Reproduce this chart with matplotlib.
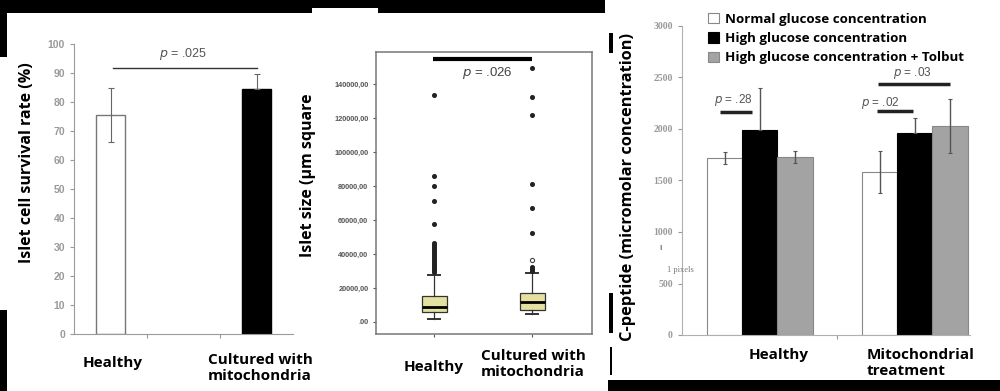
import matplotlib.pyplot as plt
from matplotlib.patches import Rectangle
import numpy as np

W, H = 1000, 391

# ---- panel 1: islet cell survival ----
surv_vals = [75.5, 84.5]
surv_err_lo = [9.2, 0]
surv_err_hi = [9.2, 5.0]
surv_colors = ["white", "black"]
surv_p = "= .025"

# ---- panel 2: islet size box plots ----
size_ticks = [0, 20000, 40000, 60000, 80000, 100000, 120000, 140000]
size_ticklabels = [".00", "20000,00", "40000,00", "60000,00", "80000,00",
                   "100000,00", "120000,00", "140000,00"]
healthy_box = dict(q1=5900, med=9000, q3=15300, whislo=1760, whishi=27600)
healthy_out = [133500, 85900, 80200, 71200, 57600, 46300, 45200, 44000, 42800,
               41500, 40300, 39200, 38100, 37000, 36000, 35000, 34000, 33000,
               32000, 31000, 30000, 29400]
mito_box = dict(q1=7060, med=11800, q3=17000, whislo=4700, whishi=28800)
mito_out = [149400, 132400, 121800, 81200, 67000, 52400, 32400, 31200, 30200]
mito_open = [36500]
size_p = "= .026"

# ---- panel 3: C-peptide ----
cpep_groups = ["Healthy", "Mitochondrial\ntreatment"]
cpep_labels = ["Normal glucose concentration", "High glucose concentration",
               "High glucose concentration + Tolbut"]
cpep_normal = [1718, 1583]
cpep_high = [1990, 1960]
cpep_tolb = [1728, 2030]
err_normal = [55, 200]
err_high = [410, 150]
err_tolb = [55, 265]
cpep_colors = ["white", "black", "#a3a3a3"]


def fx(x):
    return x / W


def fy(y):
    return 1 - y / H


def axes_px(fig, x0, y0, x1, y1):
    return fig.add_axes([fx(x0), fy(y1), (x1 - x0) / W, (y1 - y0) / H])


def black(fig, x0, y0, x1, y1):
    fig.add_artist(Rectangle((fx(x0), fy(y1)), (x1 - x0) / W, (y1 - y0) / H,
                             transform=fig.transFigure, color="black", lw=0))


LAB = dict(family="Open Sans", weight="bold", color="black")
TICK = dict(family="Liberation Sans", weight="bold", color="#444444")
GRAY = "#9a9a9a"

fig = plt.figure(figsize=(10, 3.91), dpi=100)
fig.patch.set_facecolor("white")

# ================= panel 1 =================
ax1 = axes_px(fig, 74, 44, 293, 334)
ax1.bar([0, 2], surv_vals, width=0.4, color=surv_colors,
        edgecolor=["#777777", "black"], linewidth=1)
ax1.errorbar([0, 2], surv_vals, yerr=[surv_err_lo, surv_err_hi], fmt="none",
             ecolor="#666666", elinewidth=0.8, capsize=2, capthick=0.8)
ax1.set_xlim(-0.5, 2.5)
ax1.set_ylim(0, 100)
ax1.set_yticks(range(0, 101, 10))
ax1.set_yticklabels([str(v) for v in range(0, 101, 10)], fontsize=7.5, **TICK)
ax1.set_xticks([0.5, 1.5])
ax1.set_xticklabels([])
for s in ["top", "right"]:
    ax1.spines[s].set_visible(False)
for s in ["left", "bottom"]:
    ax1.spines[s].set_color(GRAY)
ax1.tick_params(colors=GRAY, length=3, width=0.8)
ax1.plot([0.03, 2.0], [91.7, 91.7], color="#333333", lw=1)
ax1.text(0.99, 96.5, "$\\it{p}$ " + surv_p, ha="center", va="center",
         fontsize=9, color="#555555", family="Liberation Sans")

fig.text(fx(113), fy(363), "Healthy", ha="center", va="center", fontsize=11, **LAB)
fig.text(fx(260), fy(368), "Cultured with\nmitochondria", ha="center", va="center",
         fontsize=11, linespacing=1.15, **LAB)
fig.text(fx(27), fy(163), "Islet cell survival rate (%)", rotation=90,
         ha="center", va="center", fontsize=11.5, **LAB)

# ================= panel 2 =================
ax2 = axes_px(fig, 376, 52, 592, 334)
stats = [dict(healthy_box, fliers=healthy_out), dict(mito_box, fliers=mito_out)]
ax2.bxp(stats, positions=[1, 2], widths=0.255, patch_artist=True,
        boxprops=dict(facecolor="#e4e0a2", edgecolor="#333333", lw=0.9),
        medianprops=dict(color="black", lw=2),
        whiskerprops=dict(color="#333333", lw=0.9),
        capprops=dict(color="#333333", lw=1.4), capwidths=0.12,
        flierprops=dict(marker="o", markersize=2.6, markerfacecolor="#222222",
                        markeredgecolor="#222222"))
ax2.plot([2] * len(mito_open), mito_open, "o", ms=3, mfc="none", mec="#444444", mew=0.8)
ax2.set_xlim(0.408, 2.612)
ax2.set_ylim(-7060, 158800)
ax2.set_yticks(size_ticks)
ax2.set_yticklabels(size_ticklabels, fontsize=5.3, **TICK)
ax2.set_xticks([1, 2])
ax2.set_xticklabels([])
for s in ax2.spines.values():
    s.set_color("#777777")
    s.set_linewidth(1.1)
ax2.tick_params(colors="#555555", length=2, width=0.8)
ax2.plot([0.99, 2.0], [154700, 154700], color="black", lw=3, solid_capstyle="butt")
ax2.text(1.54, 146500, "$\\it{p}$ " + size_p, ha="center", va="center",
         fontsize=9.5, color="#444444", family="Liberation Sans")

fig.text(fx(434), fy(367), "Healthy", ha="center", va="center", fontsize=11, **LAB)
fig.text(fx(533), fy(364), "Cultured with\nmitochondria", ha="center", va="center",
         fontsize=11, linespacing=1.15, **LAB)
fig.text(fx(308), fy(175), "Islet size (µm square", rotation=90,
         ha="center", va="center", fontsize=11.5, **LAB)

# ================= panel 3 =================
ax3 = axes_px(fig, 682, 26, 970, 335)
x = np.arange(len(cpep_groups))
bw = 0.226
series = [(cpep_normal, err_normal), (cpep_high, err_high), (cpep_tolb, err_tolb)]
handles = []
for i, (vals, errs) in enumerate(series):
    pos = x + (i - 1) * bw
    b = ax3.bar(pos, vals, width=bw, color=cpep_colors[i],
                edgecolor="#888888" if i != 1 else "black", linewidth=0.8,
                label=cpep_labels[i])
    lo = [0] * len(errs) if i == 1 else errs
    ax3.errorbar(pos, vals, yerr=[lo, errs], fmt="none", ecolor="#555555",
                 elinewidth=1, capsize=1.5, capthick=0.8)
    handles.append(b)
ax3.set_xlim(-0.503, 1.355)
ax3.set_ylim(0, 3000)
ax3.set_yticks(range(0, 3001, 500))
ax3.set_yticklabels([str(v) for v in range(0, 3001, 500)], fontsize=7,
                    family="Liberation Serif", weight="bold", color="#444444")
ax3.set_xticks([0.497])
ax3.set_xticklabels([])
for s in ["top", "right"]:
    ax3.spines[s].set_visible(False)
for s in ["left", "bottom"]:
    ax3.spines[s].set_color("#b0b0b0")
ax3.tick_params(colors="#999999", length=3, width=0.8)

sig = [(-0.258, -0.052, 2165, -0.174, 2282, "= .28"),
       (0.755, 0.987, 2175, 0.774, 2252, "= .02"),
       (0.761, 1.226, 2437, 0.98, 2544, "= .03")]
for x0, x1, yl, xt, yt, t in sig:
    ax3.plot([x0, x1], [yl, yl], color="#222222", lw=2.5, solid_capstyle="butt")
    ax3.text(xt, yt, "$\\it{p}$ " + t, ha="center", va="center", fontsize=8.5,
             color="#555555", family="Liberation Sans")

fig.legend(handles=handles, labels=cpep_labels, loc="upper left",
           bbox_to_anchor=(fx(696), fy(1)), frameon=False, handlelength=0.8,
           handleheight=0.8, handletextpad=0.5, labelspacing=0.46,
           prop=dict(family="Open Sans", weight="bold", size=9.6))

fig.text(fx(779), fy(355), "Healthy", ha="center", va="center", fontsize=11, **LAB)
fig.text(fx(867), fy(363), "Mitochondrial\ntreatment", ha="left", va="center",
         fontsize=11, linespacing=1.15, **LAB)
fig.text(fx(628), fy(187), "C-peptide (micromolar concentration)", rotation=90,
         ha="center", va="center", fontsize=11.8, **LAB)
fig.text(fx(680), fy(270), "1 pixels", ha="center", va="center", fontsize=6,
         family="Liberation Serif", color="#777777")
fig.text(fx(660), fy(248), "ı", ha="center", va="center", fontsize=6, color="#333333")

# ---- black frame pieces from the composite image ----
black(fig, 0, 0, 312, 13)
black(fig, 312, 0, 378, 8)
black(fig, 378, 0, 605, 13)
black(fig, 0, 13, 7, 57)
black(fig, 0, 310, 7, 391)
black(fig, 608, 380, 1000, 391)
black(fig, 609, 33, 613, 53)
black(fig, 609, 293, 613, 333)
black(fig, 610, 347, 612, 375)

fig.savefig("out.png", dpi=100)
